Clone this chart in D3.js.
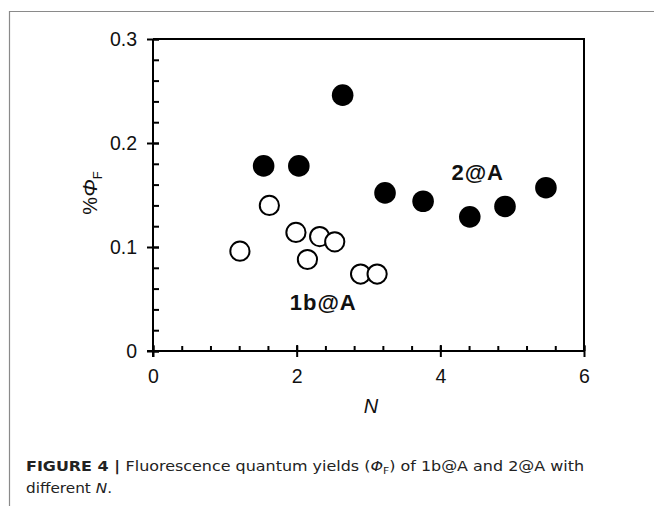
<!DOCTYPE html>
<html>
<head>
<meta charset="utf-8">
<script src="https://cdn.jsdelivr.net/npm/d3@7"></script>
<style>
  html, body { margin: 0; padding: 0; background: #fff; }
  svg { display: block; }
</style>
</head>
<body>
<svg id="chart" width="654" height="506"></svg>
<script>
// ---- data ----
const series2A_N   = [1.54, 2.03, 2.64, 3.23, 3.76, 4.41, 4.90, 5.47];
const series2A_phi = [0.178, 0.178, 0.246, 0.152, 0.144, 0.129, 0.139, 0.157];
const series1b_N   = [1.21, 1.62, 1.99, 2.32, 2.53, 2.15, 2.89, 3.12];
const series1b_phi = [0.096, 0.140, 0.114, 0.110, 0.105, 0.088, 0.074, 0.074];
const xTicks = [0, 2, 4, 6];
const yTicks = [0, 0.1, 0.2, 0.3];
const xMinorTicks = d3.range(0, 6.0001, 0.4);
const yMinorTicks = d3.range(0, 0.30001, 0.02);
const seriesLabels = [
  {text: "2@A", N: 4.52, phi: 0.164},
  {text: "1b@A", N: 2.37, phi: 0.039}
];

const svg = d3.select("#chart");
const font = "'Liberation Sans', Arial, Helvetica, sans-serif";
const capFont = "'DejaVu Sans', 'Liberation Sans', sans-serif";

// outer frame (figure border)
svg.append("path")
  .attr("d", "M9.5,506 L9.5,11.5 L654,11.5")
  .attr("fill", "none").attr("stroke", "#8a8a8a").attr("stroke-width", 1.2);

const x = d3.scaleLinear().domain([0, 6]).range([153, 584]);
const y = d3.scaleLinear().domain([0, 0.3]).range([351, 39]);

const g = svg.append("g");

// plot box top & right
g.append("path")
  .attr("d", `M${x(0)},${y(0.3)} L${x(6)},${y(0.3)} L${x(6)},${y(0)}`)
  .attr("fill", "none").attr("stroke", "#000").attr("stroke-width", 2);

// minor ticks (inward)
g.append("g").attr("transform", `translate(0,${y(0)})`)
  .call(d3.axisBottom(x).tickValues(xMinorTicks).tickSizeInner(-5).tickSizeOuter(0).tickFormat(""))
  .call(a => a.select(".domain").remove())
  .call(a => a.selectAll("line").attr("stroke-width", 2));
g.append("g").attr("transform", `translate(${x(0)},0)`)
  .call(d3.axisLeft(y).tickValues(yMinorTicks).tickSizeInner(-6).tickSizeOuter(0).tickFormat(""))
  .call(a => a.select(".domain").remove())
  .call(a => a.selectAll("line").attr("stroke-width", 2));

// major x axis (ticks crossing)
const xa = g.append("g").attr("transform", `translate(0,${y(0)})`)
  .call(d3.axisBottom(x).tickValues(xTicks).tickSize(6).tickSizeOuter(0).tickPadding(12).tickFormat(d3.format("d")));
xa.selectAll(".tick line").attr("y1", -6).attr("stroke-width", 2);
xa.select(".domain").attr("stroke-width", 2).attr("d", `M${x(0)-6},0H${x(6)}`);
xa.selectAll("text").attr("font-family", font).attr("font-size", 19.5).attr("fill", "#111");

// major y axis
const ya = g.append("g").attr("transform", `translate(${x(0)},0)`)
  .call(d3.axisLeft(y).tickValues(yTicks).tickSize(6).tickSizeOuter(0).tickPadding(10)
    .tickFormat(d => d === 0 ? "0" : d3.format(".1f")(d)));
ya.selectAll(".tick line").attr("x1", 6).attr("stroke-width", 2);
ya.select(".domain").attr("stroke-width", 2).attr("d", `M0,${y(0)+6}V${y(0.3)}`);
ya.selectAll("text").attr("font-family", font).attr("font-size", 19.5).attr("fill", "#111");

// axis titles
svg.append("text")
  .attr("x", 371).attr("y", 413).attr("text-anchor", "middle")
  .attr("font-family", font).attr("font-size", 20).attr("font-style", "italic").attr("fill", "#111")
  .text("N");

const yt = svg.append("text")
  .attr("transform", "translate(97,193) rotate(-90)")
  .attr("text-anchor", "middle")
  .attr("font-family", font).attr("font-size", 20).attr("fill", "#111");
yt.append("tspan").text("%");
yt.append("tspan").attr("font-style", "italic").attr("font-size", 21).text("Φ");
yt.append("tspan").attr("font-size", 13).attr("dy", 5).text("F");

// data points
const d2 = series2A_N.map((n, i) => ({N: n, phi: series2A_phi[i]}));
const d1 = series1b_N.map((n, i) => ({N: n, phi: series1b_phi[i]}));

g.selectAll("circle.open").data(d1).join("circle").attr("class", "open")
  .attr("cx", d => x(d.N)).attr("cy", d => y(d.phi)).attr("r", 9.6)
  .attr("fill", "#fff").attr("stroke", "#000").attr("stroke-width", 2);

g.selectAll("circle.filled").data(d2).join("circle").attr("class", "filled")
  .attr("cx", d => x(d.N)).attr("cy", d => y(d.phi)).attr("r", 10.8)
  .attr("fill", "#000");

// series labels
g.selectAll("text.slabel").data(seriesLabels).join("text").attr("class", "slabel")
  .attr("x", d => x(d.N)).attr("y", d => y(d.phi))
  .attr("text-anchor", "middle")
  .attr("font-family", font).attr("font-size", 22).attr("font-weight", "bold").attr("fill", "#111")
  .attr("letter-spacing", 1)
  .text(d => d.text);

// caption
const cap1 = svg.append("text")
  .attr("x", 26).attr("y", 471)
  .attr("font-family", capFont).attr("font-size", 14).attr("fill", "#222")
  .attr("textLength", 558).attr("lengthAdjust", "spacingAndGlyphs");
cap1.append("tspan").attr("font-weight", "bold").text("FIGURE 4 | ");
cap1.append("tspan").text("Fluorescence quantum yields (");
cap1.append("tspan").attr("font-style", "italic").text("Φ");
cap1.append("tspan").attr("font-size", 9.5).attr("dy", 3).text("F");
cap1.append("tspan").attr("dy", -3).text(") of 1b@A and 2@A with");

const cap2 = svg.append("text")
  .attr("x", 26).attr("y", 493)
  .attr("font-family", capFont).attr("font-size", 14).attr("fill", "#222")
  .attr("textLength", 86).attr("lengthAdjust", "spacingAndGlyphs");
cap2.append("tspan").text("different ");
cap2.append("tspan").attr("font-style", "italic").text("N");
cap2.append("tspan").text(".");
</script>
</body>
</html>
